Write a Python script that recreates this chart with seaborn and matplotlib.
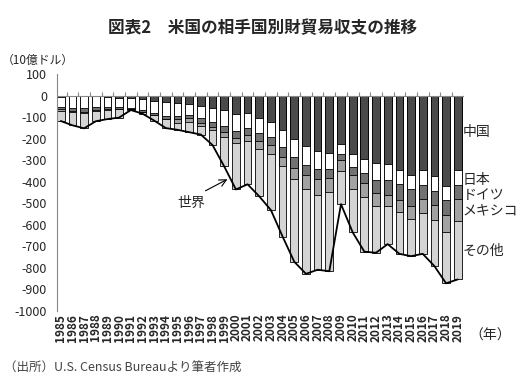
import matplotlib
matplotlib.use('Agg')
import numpy as np
import pandas as pd
import matplotlib.pyplot as plt
import seaborn as sns
from matplotlib.patches import FancyArrowPatch

# US goods trade balance by partner, billions of dollars
years = list(range(1985, 2020))
china = [-6, -2, -3, -3, -6, -10, -13, -18, -23, -30, -34, -40, -50, -57, -69,
         -84, -83, -103, -124, -162, -202, -234, -259, -268, -227, -273, -295,
         -315, -319, -345, -367, -347, -375, -418, -344]
japan = [-46, -55, -56, -52, -49, -41, -43, -50, -59, -66, -59, -48, -56, -64, -73,
         -82, -69, -70, -66, -76, -83, -89, -84, -74, -45, -60, -63, -76, -73,
         -67, -69, -69, -69, -68, -69]
germany = [-12, -16, -16, -12, -8, -9, -5, -8, -10, -13, -16, -16, -19, -23, -28,
           -29, -29, -36, -39, -46, -51, -48, -45, -43, -28, -34, -50, -60, -68,
           -74, -75, -65, -64, -68, -67]
mexico = [-6, -5, -6, -3, -2, -2, 0, 0, 0, 0, -16, -18, -15, -16, -23, -25, -30,
          -37, -41, -45, -50, -64, -75, -65, -48, -66, -65, -61, -54, -54, -61,
          -63, -69, -81, -101]
others = [-48, -60, -71, -49, -44, -40, -6, -8, -24, -42, -34, -48, -41, -70, -136,
          -216, -201, -222, -262, -326, -386, -393, -346, -366, -156, -202, -252,
          -218, -176, -195, -174, -191, -215, -237, -273]
world = [-118, -138, -152, -119, -109, -102, -67, -84, -116, -151, -159, -170,
         -181, -230, -329, -436, -412, -468, -532, -655, -772, -828, -809, -816,
         -504, -635, -725, -730, -690, -735, -746, -735, -792, -872, -854]

series_names = ['中国', '日本', 'ドイツ', 'メキシコ', 'その他']
series_colors = ['#4a4a4a', '#ffffff', '#727272', '#a2a2a2', '#d4d4d4']

df = pd.DataFrame({'year': [str(y) for y in years], '中国': china, '日本': japan,
                   'ドイツ': germany, 'メキシコ': mexico, 'その他': others})

sns.set_style('white')
plt.rcParams['font.family'] = ['Noto Sans CJK JP', 'DejaVu Sans']
plt.rcParams['axes.unicode_minus'] = False

fig = plt.figure(figsize=(5.26, 3.92), dpi=100)
ax = fig.add_axes([0.108, 0.207, 0.774, 0.604])

# stacked bars: draw the deepest cumulative first, then overlay shallower ones
cum = df[series_names].cumsum(axis=1)
for name, color in reversed(list(zip(series_names, series_colors))):
    sns.barplot(x=df['year'], y=cum[name], color=color, saturation=1,
                edgecolor='black', linewidth=0.6, width=0.66, errorbar=None, ax=ax)

ax.plot(np.arange(len(years)), world, color='black', lw=1.3, zorder=5)

ax.set_xlim(-0.34, 34.53)
ax.set_ylim(-1000, 100)
ax.set_yticks(np.arange(-1000, 101, 100))
ax.tick_params(axis='y', direction='out', length=4, color='#888888', labelsize=9, pad=3)
ax.set_xticks(range(len(years)))
ax.set_xticklabels([str(y) for y in years], rotation=90, fontsize=8.5, fontweight='bold')
ax.tick_params(axis='x', length=0, pad=2)
ax.set_xlabel('')
ax.set_ylabel('')
for s in ['top', 'right', 'bottom']:
    ax.spines[s].set_visible(False)
ax.spines['left'].set_color('#888888')
ax.spines['left'].set_linewidth(0.8)
ax.axhline(0, color='#888888', lw=0.8, zorder=4)
ax.vlines(np.arange(len(years) + 1) - 0.5, 0, 16, color='#888888', lw=0.8, zorder=4)

fig.text(0.5, 0.928, '図表2　米国の相手国別財貿易収支の推移', ha='center', va='center',
         fontsize=12, fontweight='bold')
fig.text(0.004, 0.846, '（10億ドル）', ha='left', va='center', fontsize=8.5)
fig.text(0.893, 0.143, '（年）', ha='left', va='center', fontsize=10)
fig.text(0.008, 0.06, '（出所）U.S. Census Bureauより筆者作成', ha='left', va='center',
         fontsize=9, color='#444444')

label_y = [0.664, 0.541, 0.503, 0.462, 0.360]
for name, y in zip(series_names, label_y):
    fig.text(0.880, y, name, ha='left', va='center', fontsize=10)

fig.text(0.363, 0.482, '世界', ha='center', va='center', fontsize=10)
arrow = FancyArrowPatch((0.386, 0.510), (0.437, 0.546), transform=fig.transFigure,
                        arrowstyle='->,head_length=5,head_width=2.5',
                        color='black', lw=0.8, zorder=10)
fig.add_artist(arrow)

fig.savefig('out.png', dpi=100)
